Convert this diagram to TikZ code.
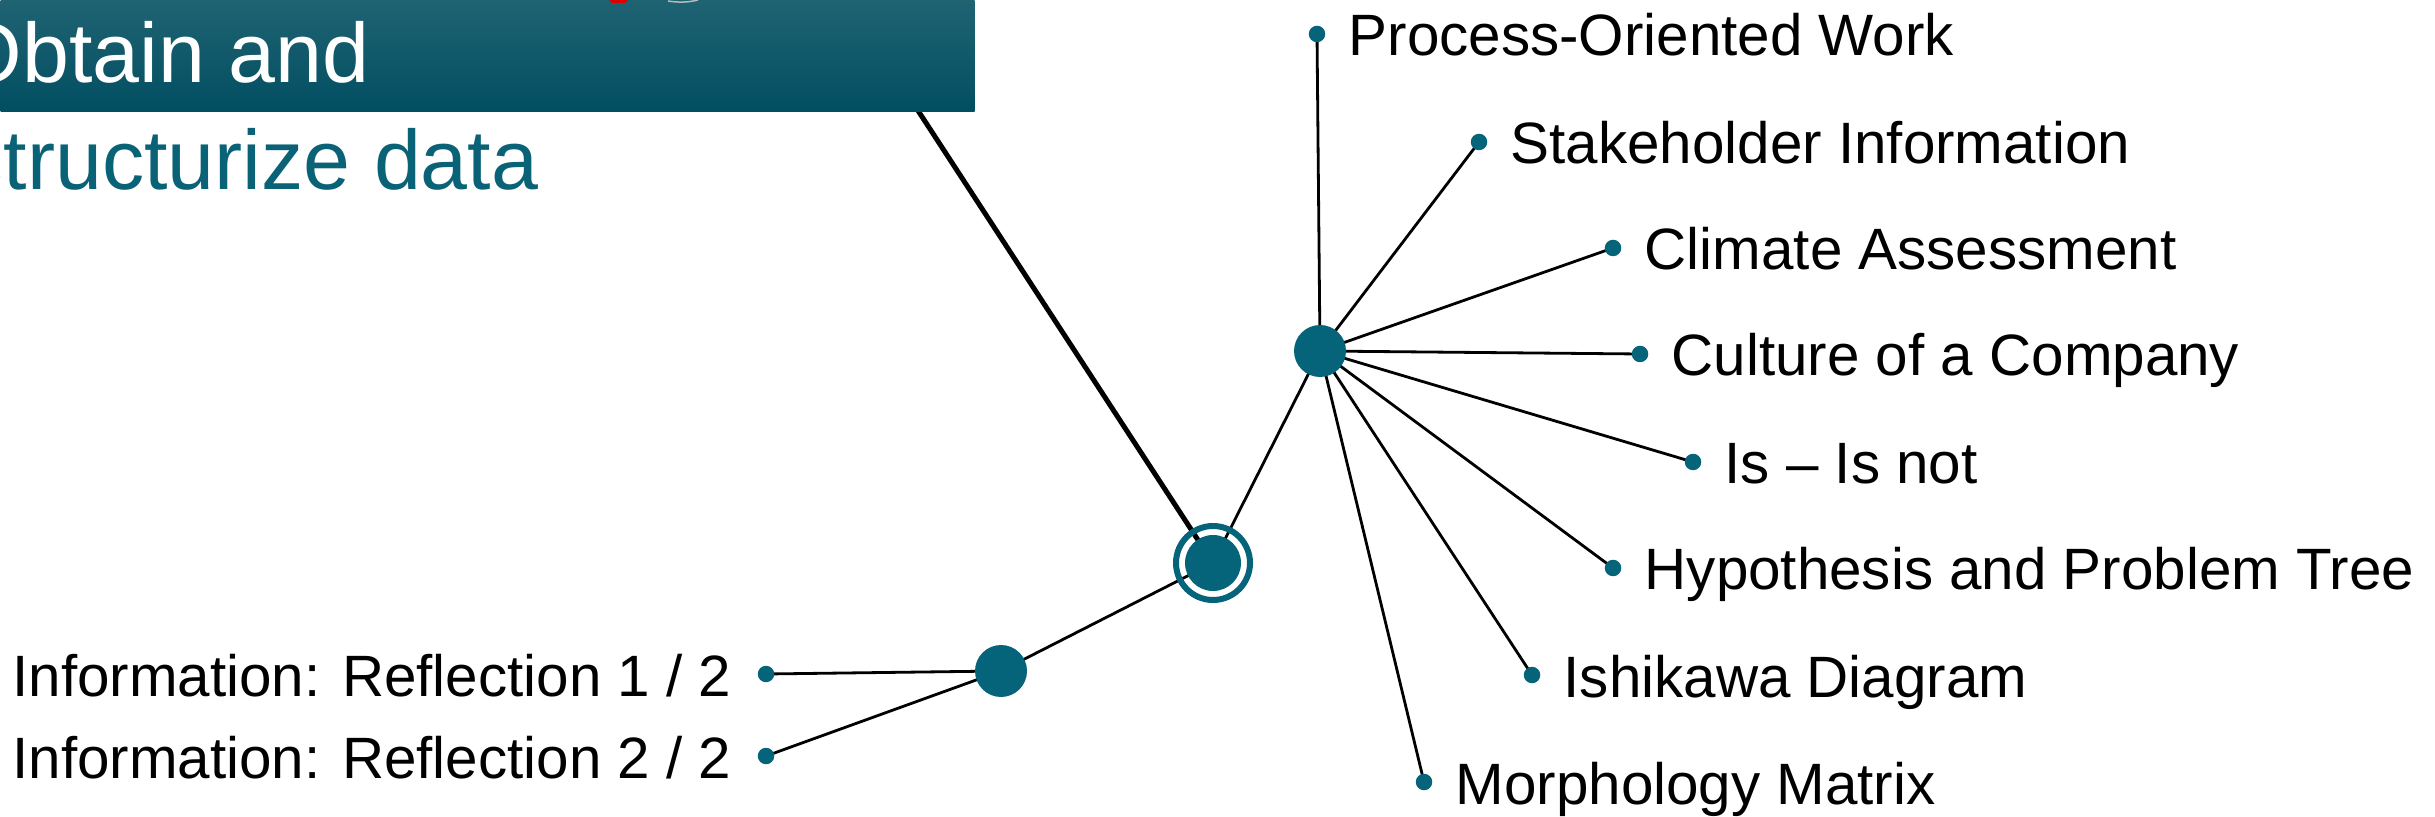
\documentclass[tikz,border=0pt]{standalone}
\usepackage{fontspec}
\setmainfont{Liberation Sans}
\usetikzlibrary{calc,backgrounds}
\definecolor{dotteal}{HTML}{05637A}
\definecolor{hdrtop}{HTML}{1F6373}
\definecolor{hdrbot}{HTML}{014E61}
\definecolor{titleteal}{HTML}{0A6277}
\begin{document}
\begin{tikzpicture}[x=0.1mm,y=-0.1mm,
  hubdot/.style={circle,fill=dotteal,inner sep=0,minimum size=5.2mm},
  coredot/.style={circle,fill=dotteal,inner sep=0,minimum size=5.6mm},
  ringmark/.style={circle,draw=dotteal,line width=0.6mm,inner sep=0,minimum size=7.4mm},
  leafdot/.style={circle,fill=dotteal,inner sep=0,minimum size=1.65mm},
  spoke/.style={line width=0.28mm,black},
  trunk/.style={line width=0.5mm,black},
  leaflabel/.style={inner sep=0,font=\fontsize{16.6}{20}\selectfont},
  titletext/.style={inner sep=0,font=\fontsize{24}{28}\selectfont}]
\useasboundingbox (0,0) rectangle (2435,817);
\clip (0,0) rectangle (2435,817);

% title banner
\node[anchor=north west,inner sep=0,minimum width=97.4mm,minimum height=11.1mm,
      top color=hdrtop,bottom color=hdrbot] (banner) at (0,0) {};
\fill[red!85!black] (609,0) -- (628,0) -- (625,3) -- (612,3) -- cycle;
\draw[gray!55,line width=0.15mm] (668,1) .. controls (680,3) and (690,2) .. (698,0);
\node[titletext,anchor=base west,text=white] (ttl1) at (-44,83) {Obtain and};
\node[titletext,anchor=base west,text=titleteal] (ttl2) at (-39,190) {structurize data};
\coordinate (trunktop) at (900,83);

% hubs
\node[coredot] (core) at (1213,563) {};
\node[ringmark] (ring) at (1213,563) {};
\node[hubdot] (hr) at (1320,351) {};
\node[hubdot] (hl) at (1001,671) {};

% leaves on the right hub
\node[leafdot] (p1) at (1317,34) {};
\node[leafdot] (p2) at (1479,142) {};
\node[leafdot] (p3) at (1613,248) {};
\node[leafdot] (p4) at (1640,354) {};
\node[leafdot] (p5) at (1693,462) {};
\node[leafdot] (p6) at (1613,568) {};
\node[leafdot] (p7) at (1532,675) {};
\node[leafdot] (p8) at (1424,782) {};

% leaves on the left hub
\node[leafdot] (l1) at (766,674) {};
\node[leafdot] (l2) at (766,756) {};

% labels
\node[leaflabel,anchor=base west] (tp1) at ($(p1)+(31,22)$) {Process-Oriented Work};
\node[leaflabel,anchor=base west] (tp2) at ($(p2)+(31,22)$) {Stakeholder Information};
\node[leaflabel,anchor=base west] (tp3) at ($(p3)+(31,22)$) {Climate Assessment};
\node[leaflabel,anchor=base west] (tp4) at ($(p4)+(31,22)$) {Culture of a Company};
\node[leaflabel,anchor=base west] (tp5) at ($(p5)+(31,22)$) {Is -- Is not};
\node[leaflabel,anchor=base west] (tp6) at ($(p6)+(31,22)$) {Hypothesis and Problem Tree};
\node[leaflabel,anchor=base west] (tp7) at ($(p7)+(31,22)$) {Ishikawa Diagram};
\node[leaflabel,anchor=base west] (tp8) at ($(p8)+(31,22)$) {Morphology Matrix};
\node[leaflabel,anchor=base east] (tl1) at ($(l1)+(-34,22)$) {Information: Reflection 1 / 2};
\node[leaflabel,anchor=base east] (tl2) at ($(l2)+(-34,22)$) {Information: Reflection 2 / 2};

% connectors
\begin{pgfonlayer}{background}
  \draw[trunk] (core.center) -- (trunktop);
  \draw[spoke] (core.center) -- (hr.center);
  \draw[spoke] (core.center) -- (hl.center);
  \foreach \leaf in {p1,p2,p3,p4,p5,p6,p7,p8}
    \draw[spoke] (hr.center) -- (\leaf.center);
  \draw[spoke] (hl.center) -- (l1.center);
  \draw[spoke] (hl.center) -- (l2.center);
\end{pgfonlayer}
\end{tikzpicture}
\end{document}
